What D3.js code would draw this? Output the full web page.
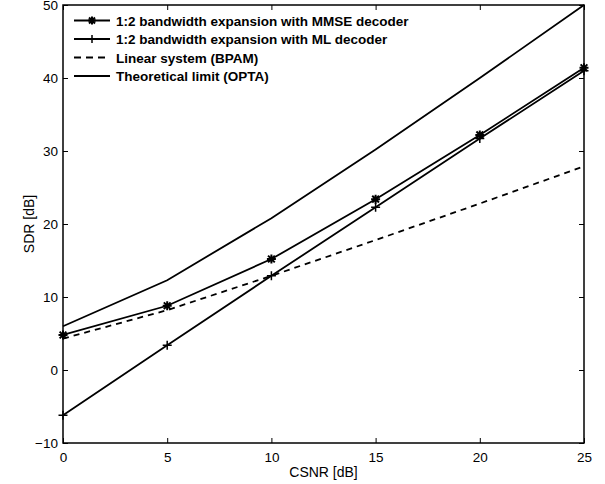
<!DOCTYPE html>
<html>
<head>
<meta charset="utf-8">
<script src="https://cdn.jsdelivr.net/npm/d3@7"></script>
<style>
  body { margin: 0; background: #fff; }
  text { font-family: "Liberation Sans", Arial, sans-serif; }
</style>
</head>
<body>
<svg></svg>
<script>
let width = 605,
    height = 484;

// CSNR values [dB]
const csnr = [0, 5, 10, 15, 20, 25];
// SDR values [dB] for each curve
const mmse = [4.8, 8.8, 15.2, 23.4, 32.2, 41.4];
const ml = [-6.2, 3.4, 12.9, 22.3, 31.7, 41.0];
const bpam = [4.3, 8.2, 12.9, 17.8, 22.8, 27.9];
const opta = [6.0, 12.3, 20.8, 30.2, 40.0, 50.0];

const xTicks = [0, 5, 10, 15, 20, 25];
const yTicks = [-10, 0, 10, 20, 30, 40, 50];

const legendLabels = [
    "1:2 bandwidth expansion with MMSE decoder",
    "1:2 bandwidth expansion with ML decoder",
    "Linear system (BPAM)",
    "Theoretical limit (OPTA)"
];

let margin = {left: 63, right: 21, top: 5, bottom: 41};

let svg = d3.select('svg')
    .attr('width', width)
    .attr('height', height);

let x = d3.scaleLinear().domain([0, 25]).range([margin.left, width - margin.right]);
let y = d3.scaleLinear().domain([-10, 50]).range([height - margin.bottom, margin.top]);

let g = svg.append('g');

// axes, MATLAB style with inward ticks on all four sides
function styleAxis(sel) {
    sel.select('.domain').remove();
    sel.selectAll('.tick line').attr('stroke', '#000').attr('stroke-width', 1);
    sel.selectAll('text').attr('font-size', 13.5).attr('fill', '#000');
}

g.append('g')
    .attr('transform', `translate(0,${y(-10)})`)
    .call(d3.axisBottom(x).tickValues(xTicks).tickSize(-5).tickPadding(9))
    .call(styleAxis);

g.append('g')
    .attr('transform', `translate(0,${y(50)})`)
    .call(d3.axisTop(x).tickValues(xTicks).tickSize(-5).tickFormat(''))
    .call(styleAxis);

g.append('g')
    .attr('transform', `translate(${x(0)},0)`)
    .call(d3.axisLeft(y).tickValues(yTicks).tickSize(-5).tickPadding(5)
        .tickFormat(d => d < 0 ? '\u2212' + Math.abs(d) : d))
    .call(styleAxis);

g.append('g')
    .attr('transform', `translate(${x(25)},0)`)
    .call(d3.axisRight(y).tickValues(yTicks).tickSize(-5).tickFormat(''))
    .call(styleAxis);

g.append('rect')
    .attr('x', x(0)).attr('y', y(50))
    .attr('width', x(25) - x(0)).attr('height', y(-10) - y(50))
    .attr('fill', 'none').attr('stroke', '#000').attr('stroke-width', 1.5);

// axis labels
g.append('text')
    .attr('x', (x(0) + x(25)) / 2).attr('y', 477)
    .attr('text-anchor', 'middle').attr('font-size', 14)
    .text('CSNR [dB]');

g.append('text')
    .attr('transform', `translate(34,${(y(-10) + y(50)) / 2}) rotate(-90)`)
    .attr('text-anchor', 'middle').attr('font-size', 14)
    .text('SDR [dB]');

// curves
let line = d3.line()
    .x((d, i) => x(csnr[i]))
    .y(d => y(d));

let series = [
    {values: mmse, dash: null, marker: 'star'},
    {values: ml, dash: null, marker: 'plus'},
    {values: bpam, dash: '6,5', marker: null},
    {values: opta, dash: null, marker: null}
];

let plot = g.append('g');

function drawMarker(sel, type, cx, cy, r) {
    if (type === 'plus') {
        sel.append('path')
            .attr('d', `M${cx - r},${cy}H${cx + r}M${cx},${cy - r}V${cy + r}`)
            .attr('stroke', '#000').attr('stroke-width', 1.5);
    } else if (type === 'star') {
        let d = `M${cx - r},${cy}H${cx + r}M${cx},${cy - r}V${cy + r}`;
        let k = r * 0.75;
        d += `M${cx - k},${cy - k}L${cx + k},${cy + k}M${cx - k},${cy + k}L${cx + k},${cy - k}`;
        sel.append('path').attr('d', d).attr('stroke', '#000').attr('stroke-width', 2);
    }
}

series.forEach(s => {
    plot.append('path')
        .attr('d', line(s.values))
        .attr('fill', 'none')
        .attr('stroke', '#000')
        .attr('stroke-width', 1.8)
        .attr('stroke-dasharray', s.dash);
    if (s.marker) {
        s.values.forEach((v, i) => drawMarker(plot, s.marker, x(csnr[i]), y(v), 4.5));
    }
});

// legend
let legend = g.append('g');
series.forEach((s, i) => {
    let ly = 20.5 + i * 18.5;
    legend.append('line')
        .attr('x1', 74).attr('x2', 110).attr('y1', ly).attr('y2', ly)
        .attr('stroke', '#000').attr('stroke-width', 1.8)
        .attr('stroke-dasharray', s.dash ? '7,5' : null);
    if (s.marker) drawMarker(legend, s.marker, 92, ly, 4);
    legend.append('text')
        .attr('x', 116).attr('y', ly + 5)
        .attr('font-size', 13.5).attr('font-weight', 'bold')
        .text(legendLabels[i]);
});
</script>
</body>
</html>
